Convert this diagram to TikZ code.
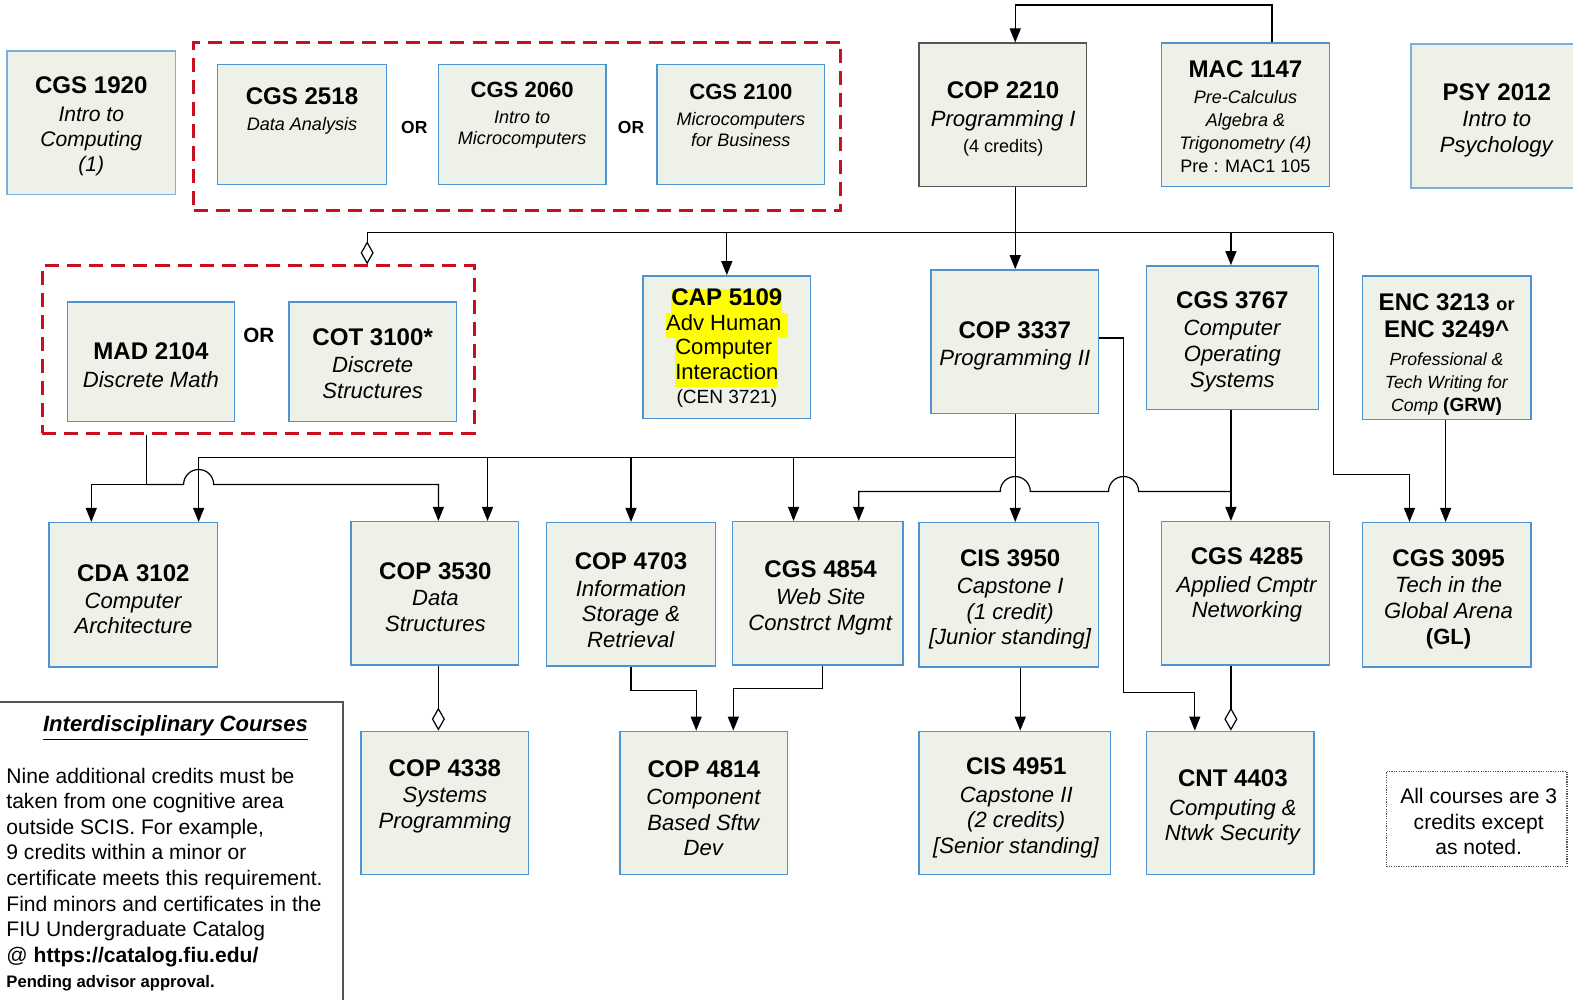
\documentclass[tikz,border=0pt]{standalone}
\usepackage{fontspec}
\setmainfont{Liberation Sans}
\usetikzlibrary{arrows.meta,fit}
\definecolor{crsfill}{RGB}{238,241,231}
\definecolor{crsblue}{RGB}{78,148,210}
\definecolor{lightblue}{RGB}{125,175,222}
\definecolor{darkframe}{RGB}{85,85,85}
\definecolor{grpred}{RGB}{200,16,30}
\definecolor{hl}{RGB}{255,255,0}
\newcommand{\ct}[1]{{\fontsize{12}{12}\selectfont\bfseries #1}}
\newcommand{\hlt}[1]{{\setlength{\fboxsep}{0pt}\colorbox{hl}{\strut #1}}}
\begin{document}
\begin{tikzpicture}[x=0.5pt,y=-0.5pt,
  crs/.style={draw=crsblue, fill=crsfill, line width=0.7pt, inner sep=0pt},
  grp/.style={draw=grpred, line width=1.5pt, dash pattern=on 7pt off 4pt, inner sep=0pt},
  con/.style={draw=black, line width=0.6pt},
  arr/.style={con, -{Triangle[length=7pt,width=5.5pt]}},
  agg/.style={con, -{Diamond[open,length=11.5pt,width=6.5pt]}},
  txt/.style={align=center, inner sep=0pt, text=black, yshift=-1.25pt},
  ortxt/.style={inner sep=0pt, font=\fontsize{8.7}{10}\selectfont\bfseries}]
\useasboundingbox (0,0) rectangle (1568,996);
\clip (0,0) rectangle (1568,996);

% ---------- groups ----------
\node[grp, fit={(193,42)(838,210)}] (grp1) {};
\node[grp, fit={(42,265)(473,432)}] (grp2) {};

% ---------- course boxes ----------
\node[crs, draw=lightblue, fit={(7,51)(175,194)}] (cgs1920) {};
\node[crs, fit={(217,64)(385,184)}] (cgs2518) {};
\node[crs, fit={(437,64)(604,184)}] (cgs2060) {};
\node[crs, fit={(655,64)(822,184)}] (cgs2100) {};
\node[crs, draw=darkframe, fit={(916,43)(1083,186)}] (cop2210) {};
\node[crs, fit={(1158,43)(1325,186)}] (mac1147) {};
\node[crs, draw=lightblue, line width=1pt, fit={(1406,44)(1580,187)}] (psy2012) {};

\node[crs, fit={(67,301)(234,420)}] (mad2104) {};
\node[crs, fit={(288,301)(455,420)}] (cot3100) {};
\node[crs, fit={(641,275)(808,417)}] (cap5109) {};
\node[crs, fit={(928,269)(1095,412)}] (cop3337) {};
\node[crs, fit={(1143,265)(1314,408)}] (cgs3767) {};
\node[crs, fit={(1358,275)(1526,418)}] (enc) {};

\node[crs, fit={(49,521)(217,665)}] (cda3102) {};
\node[crs, fit={(350,520)(517,663)}] (cop3530) {};
\node[crs, fit={(545,521)(713,664)}] (cop4703) {};
\node[crs, fit={(730,520)(900,663)}] (cgs4854) {};
\node[crs, fit={(916,521)(1095,665)}] (cis3950) {};
\node[crs, fit={(1158,520)(1325,663)}] (cgs4285) {};
\node[crs, fit={(1358,521)(1526,665)}] (cgs3095) {};

\node[crs, fit={(360,729)(527,872)}] (cop4338) {};
\node[crs, fit={(618,729)(785,872)}] (cop4814) {};
\node[crs, fit={(916,729)(1107,872)}] (cis4951) {};
\node[crs, fit={(1143,729)(1310,872)}] (cnt4403) {};

\node[draw=darkframe, line width=0.75pt, inner sep=0pt, fit={(-10,700)(342,1010)}] (interbox) {};
\node[draw=darkframe, line width=0.6pt, dash pattern=on 0.6pt off 0.6pt, inner sep=0pt, fit={(1382,769)(1562,864)}] (note) {};

% ---------- texts ----------
\node[txt, font=\fontsize{10.5}{12.5}\selectfont] (cgs1920-t) at (91,123) {\ct{CGS 1920}\\[1.5pt]\textit{Intro to}\\\textit{Computing}\\\textit{(1)}};
\node[txt, font=\fontsize{9}{13}\selectfont] (cgs2518-t) at (301,108) {\ct{CGS 2518}\\\textit{Data Analysis}};
\node[txt, font=\fontsize{9}{10.5}\selectfont] (cgs2060-t) at (520.5,112.5) {{\fontsize{11}{11}\selectfont\bfseries CGS 2060}\\[2.5pt]\textit{Intro to}\\\textit{Microcomputers}};
\node[txt, font=\fontsize{9}{10.5}\selectfont] (cgs2100-t) at (738.5,112.5) {{\fontsize{11}{11}\selectfont\bfseries CGS 2100}\\[2.5pt]\textit{Microcomputers}\\\textit{for Business}};
\node[ortxt] (or1) at (413,127) {OR};
\node[ortxt] (or2) at (629,127) {OR};
\node[txt, font=\fontsize{11}{13}\selectfont] (cop2210-t) at (1000,116) {\ct{COP 2210}\\[1pt]\textit{Programming I}\\{\fontsize{9}{9}\selectfont (4 credits)}};
\node[txt, font=\fontsize{9}{11.5}\selectfont] (mac1147-t) at (1241.5,114) {\ct{MAC 1147}\\[1.5pt]\textit{Pre-Calculus}\\\textit{Algebra \&}\\\textit{Trigonometry (4)}\\Pre : MAC1 105};
\node[txt, font=\fontsize{11}{13.2}\selectfont] (psy2012-t) at (1492,117.5) {\ct{PSY 2012}\\\textit{Intro to}\\\textit{Psychology}};

\node[txt, font=\fontsize{11}{13.5}\selectfont] (mad2104-t) at (150.5,361.5) {\ct{MAD 2104}\\\textit{Discrete Math}};
\node[ortxt, font=\fontsize{10.3}{12}\selectfont\bfseries] (or3) at (258,334) {OR};
\node[txt, font=\fontsize{11}{12.7}\selectfont] (cot3100-t) at (371.5,360) {\ct{COT 3100*}\\[1pt]\textit{Discrete}\\\textit{Structures}};
\node[txt, font=\fontsize{11}{12.2}\selectfont] (cap5109-t) at (724.5,344.5) {\hlt{\ct{CAP 5109}}\\\hlt{Adv Human\ }\\\hlt{Computer\ }\\\hlt{Interaction}\\{\fontsize{9.5}{9.5}\selectfont(CEN 3721)}};
\node[txt, font=\fontsize{11}{13.5}\selectfont] (cop3337-t) at (1011.5,342.5) {\ct{COP 3337}\\\textit{Programming II}};
\node[txt, font=\fontsize{11}{12.8}\selectfont] (cgs3767-t) at (1228.5,338) {\ct{CGS 3767}\\[1pt]\textit{Computer}\\\textit{Operating}\\\textit{Systems}};
\node[txt, font=\fontsize{8.8}{11.5}\selectfont] (enc-t) at (1442,351) {\ct{ENC 3213 {\fontsize{9}{9}\selectfont or}}\\[2pt]\ct{ENC 3249\textasciicircum}\\[2pt]\textit{Professional \&}\\\textit{Tech Writing for}\\\textit{Comp} {\fontsize{9.5}{9.5}\selectfont\bfseries (GRW)}};

\node[txt, font=\fontsize{11}{12.6}\selectfont] (cda3102-t) at (133,595) {\ct{CDA 3102}\\[1pt]\textit{Computer}\\\textit{Architecture}};
\node[txt, font=\fontsize{11}{13}\selectfont] (cop3530-t) at (434,593) {\ct{COP 3530}\\\textit{Data}\\\textit{Structures}};
\node[txt, font=\fontsize{11}{12.6}\selectfont] (cop4703-t) at (629,595.5) {\ct{COP 4703}\\[1pt]\textit{Information}\\\textit{Storage \&}\\\textit{Retrieval}};
\node[txt, font=\fontsize{11}{13.2}\selectfont] (cgs4854-t) at (818,593.5) {\ct{CGS 4854}\\\textit{Web Site}\\\textit{Constrct Mgmt}};
\node[txt, font=\fontsize{11}{12.7}\selectfont] (cis3950-t) at (1007,595) {\ct{CIS 3950}\\[1pt]\textit{Capstone I}\\\textit{(1 credit)}\\\textit{[Junior standing]}};
\node[txt, font=\fontsize{11}{12.6}\selectfont] (cgs4285-t) at (1243,580.5) {\ct{CGS 4285}\\[1.5pt]\textit{Applied Cmptr}\\\textit{Networking}};
\node[txt, font=\fontsize{11}{13}\selectfont] (cgs3095-t) at (1444,595) {\ct{CGS 3095}\\\textit{Tech in the}\\\textit{Global Arena}\\{\bfseries (GL)}};

\node[txt, font=\fontsize{11}{13}\selectfont] (cop4338-t) at (443.5,791.5) {\ct{COP 4338}\\\textit{Systems}\\\textit{Programming}};
\node[txt, font=\fontsize{11}{12.7}\selectfont] (cop4814-t) at (701.5,803) {\ct{COP 4814}\\[1pt]\textit{Component}\\\textit{Based Sftw}\\\textit{Dev}};
\node[txt, font=\fontsize{11}{12.7}\selectfont] (cis4951-t) at (1013,803) {\ct{CIS 4951}\\[1pt]\textit{Capstone II}\\\textit{(2 credits)}\\\textit{[Senior standing]}};
\node[txt, font=\fontsize{11}{12.6}\selectfont] (cnt4403-t) at (1229,802.5) {\ct{CNT 4403}\\[1.5pt]\textit{Computing \&}\\\textit{Ntwk Security}};

\node[txt, font=\fontsize{11}{13}\selectfont\bfseries\itshape] (inter-t) at (175,723) {\underline{Interdisciplinary Courses}};
\node[anchor=north west, align=left, inner sep=0pt, font=\fontsize{10.5}{12.75}\selectfont] (inter-b) at (6,765) {Nine additional credits must be\\taken from one cognitive area\\outside SCIS. For example,\\9 credits within a minor or\\certificate meets this requirement.\\Find minors and certificates in the\\FIU Undergraduate Catalog\\@ \textbf{https://catalog.fiu.edu/}\\{\fontsize{8.3}{8.3}\selectfont\bfseries Pending advisor approval.}};
\node[txt, font=\fontsize{10.5}{12.75}\selectfont] (note-t) at (1474,816.5) {All courses are 3\\credits except\\as noted.};

% ---------- routing coordinates ----------
\coordinate (mt) at (1268,5);
\coordinate (ct) at (1012,5);
\coordinate (b1) at (1012,232);
\coordinate (busL) at (366,232);
\coordinate (busR) at (1329,232);
\coordinate (e1) at (1329,473);
\coordinate (e2) at (1405,473);
\coordinate (m0) at (198,456);
\coordinate (m1) at (1012,456);
\coordinate (m2) at (486,456);
\coordinate (m4) at (791,456);
\coordinate (g0) at (146,483);
\coordinate (g1) at (91,483);
\coordinate (g2) at (437,483);
\coordinate (h0) at (1227,490);
\coordinate (h1) at (856,490);
\coordinate (k1) at (1120,337);
\coordinate (k2) at (1120,690);
\coordinate (k3) at (1191,690);
\coordinate (p1) at (694,688);
\coordinate (p2) at (820,686);
\coordinate (p3) at (731,686);
\coordinate (q1) at (1017,700);

% ---------- connectors ----------
\draw[arr] (mac1147.north -| mt) -- (mt) -- (ct) -- (cop2210.north -| ct);
\draw[arr] (cop2210.south -| b1) -- (cop3337.north -| b1);
\draw[con] (busL) -- (busR);
\draw[agg] (busL) -- (grp2.north -| busL);
\draw[arr] (cap5109.north |- busL) -- (cap5109.north);
\draw[arr] (cgs3767.north -| h0) ++(0,-33) -- (cgs3767.north -| h0);
\draw[arr] (busR) -- (e1) -- (e2) -- (cgs3095.north -| e2);
\draw[arr] (enc.south -| 1441,0) -- (cgs3095.north -| 1441,0);

\draw[arr] (cop3337.south -| m1) -- (cis3950.north -| m1);
\draw[con] (m0) -- (m1);
\draw[arr] (m0) -- (cda3102.north -| m0);
\draw[arr] (m2) -- (cop3530.north -| m2);
\draw[arr] (cop4703.north |- m0) -- (cop4703.north);
\draw[arr] (m4) -- (cgs4854.north -| m4);

\draw[con] (grp2.south -| g0) -- (g0);
\draw[arr] (g0) -- (g1) -- (cda3102.north -| g1);
\draw[arr] (g0) -- (183,483) arc[start angle=180, end angle=0, radius=7.5pt] -- (g2) -- (cop3530.north -| g2);

\draw[arr] (cgs3767.south -| h0) -- (cgs4285.north -| h0);
\draw[arr] (h0) -- (1135,490) arc[start angle=0, end angle=180, radius=7.5pt] -- (1027,490) arc[start angle=0, end angle=180, radius=7.5pt] -- (h1) -- (cgs4854.north -| h1);

\draw[arr] (cop3337.east |- k1) -- (k1) -- (k2) -- (k3) -- (cnt4403.north -| k3);

\draw[arr] (cop4703.south) |- (p1) -- (cop4814.north -| p1);
\draw[arr] (cgs4854.south -| p2) -- (p2) -- (p3) -- (cop4814.north -| p3);
\draw[arr] (cis3950.south -| q1) -- (cis4951.north -| q1);
\draw[agg] (cop3530.south -| g2) -- (cop4338.north -| g2);
\draw[agg] (cgs4285.south -| h0) -- (cnt4403.north -| h0);
\end{tikzpicture}
\end{document}
